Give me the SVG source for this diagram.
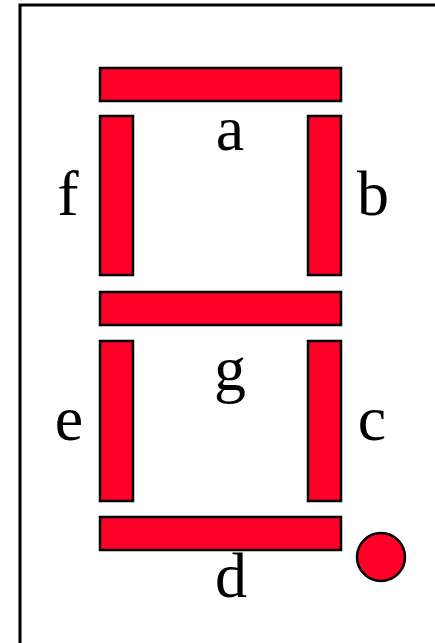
<svg xmlns="http://www.w3.org/2000/svg" width="435" height="643" viewBox="0 0 435 643">
<style>
.seg{fill:#ff0029;stroke:#000;stroke-width:2.5}
.lbl{font-family:"Liberation Serif","Times New Roman",serif;font-size:64px;fill:#000;text-anchor:middle}
</style>
<rect x="0" y="0" width="435" height="643" fill="#fff"/>
<rect x="20" y="5" width="430" height="660" fill="none" stroke="#000" stroke-width="3"/>
<g id="seg-a"><rect class="seg" x="100" y="68" width="241" height="33"/><text class="lbl" x="230" y="150">a</text></g>
<g id="seg-f"><rect class="seg" x="100" y="116" width="33" height="159"/><text class="lbl" x="68" y="215">f</text></g>
<g id="seg-b"><rect class="seg" x="308" y="116" width="33" height="159"/><text class="lbl" x="373" y="215">b</text></g>
<g id="seg-g"><rect class="seg" x="100" y="292" width="241" height="33"/><text class="lbl" x="230" y="390">g</text></g>
<g id="seg-e"><rect class="seg" x="100" y="341" width="33" height="160"/><text class="lbl" x="69" y="440">e</text></g>
<g id="seg-c"><rect class="seg" x="308" y="341" width="33" height="160"/><text class="lbl" x="372" y="440">c</text></g>
<g id="seg-d"><rect class="seg" x="100" y="517" width="241" height="33"/><text class="lbl" x="231" y="597">d</text></g>
<g id="dp"><circle class="seg" cx="381" cy="557" r="24" stroke-width="3"/></g>
</svg>
